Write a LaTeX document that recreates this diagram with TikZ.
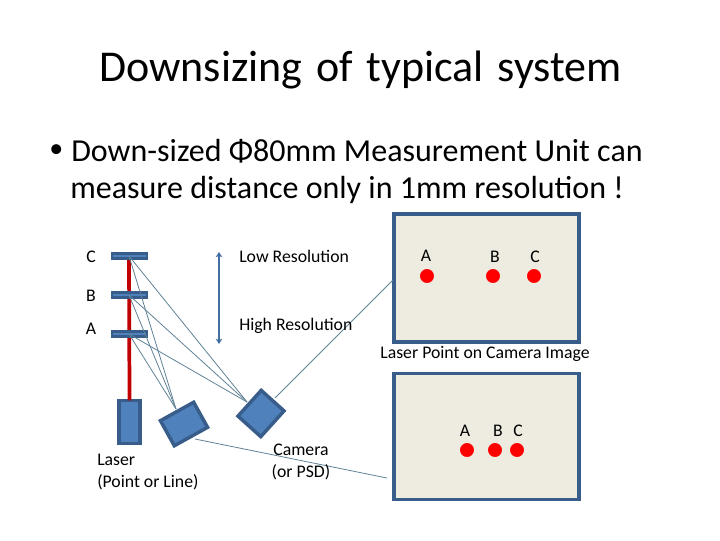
\documentclass[tikz,border=0pt]{standalone}
\usepackage{fontspec}
\setmainfont{Carlito}
\usetikzlibrary{arrows.meta}
\definecolor{fillblue}{HTML}{4F81BD}
\definecolor{edgeblue}{HTML}{385D8A}
\definecolor{linkblue}{HTML}{5F8296}
\definecolor{panelbg}{HTML}{EEECE1}
\definecolor{beamred}{HTML}{C00000}
\tikzset{
  px/.style={x=0.75pt,y=-0.75pt},
  part/.style={fill=fillblue,draw=edgeblue,line width=2.6pt,line join=miter,outer sep=0pt,inner sep=0pt},
  mirror/.style={fill=fillblue,draw=edgeblue,line width=1.8pt,outer sep=0pt,inner sep=0pt,minimum width=26.5pt,minimum height=3.6pt},
  panel/.style={fill=panelbg,draw=edgeblue,line width=2.4pt,outer sep=0pt,inner sep=0pt},
  link/.style={draw=linkblue,line width=0.6pt},
  spot/.style={circle,fill=red,draw=red,minimum size=10pt,inner sep=0pt,line width=0.4pt},
  lbl/.style={font=\fontsize{13.3pt}{16.5pt}\selectfont,text=black,inner sep=0pt,align=left},
  bigtxt/.style={font=\fontsize{24pt}{28pt}\selectfont,text=black,inner sep=0pt,anchor=west},
}
\begin{document}
\begin{tikzpicture}[px]
\useasboundingbox (0,0) rectangle (720,540);
\node[font=\fontsize{33pt}{38pt}\selectfont,inner sep=0pt] (title) at (360.5,70) {Downsizing\hspace{2.9pt} of\hspace{2.9pt} typical\hspace{2.9pt} system};
\node[bigtxt,font=\fontsize{21pt}{25pt}\selectfont] (bul) at (49,151) {•};
\node[bigtxt] (l1) at (71,151) {Down-sized Φ80mm Measurement Unit can};
\node[bigtxt] (l2) at (70,190) {measure distance only in 1mm resolution !};

% panels
\node[panel,minimum width=138.8pt,minimum height=96pt] (p1) at (486.5,278) {};
\node[panel,minimum width=138.8pt,minimum height=95pt] (p2) at (486.5,436.5) {};
\coordinate (p1in) at (393,280);
\coordinate (p2in) at (387,478);

% beam
\coordinate (mc) at (129,256);
\coordinate (mb) at (129,295);
\coordinate (ma) at (129,334);
\node[part,minimum width=15.5pt,minimum height=32.5pt] (laser) at (129.5,422) {};
\draw[beamred,line width=2.8pt] (mc) -- (laser.north);

% mirrors
\node[mirror] (mirC) at (129.5,256) {};
\node[mirror] (mirB) at (129.5,295) {};
\node[mirror] (mirA) at (129.5,334) {};

% lens and camera
\node[part,rotate=29,minimum width=28.5pt,minimum height=21.5pt] (lens) at (184,424) {};
\node[part,rotate=48,minimum width=26pt,minimum height=23pt] (cam) at (261,413.5) {};
\coordinate (lt) at (176,409);
\coordinate (ct) at (247,402);
\coordinate (co) at (275,398);
\coordinate (lo) at (195,439);
\foreach \m in {mc,mb,ma}{
  \draw[link] (\m) -- (lt);
  \draw[link] (\m) -- (ct);
}
\draw[link] (co) -- (p1in);
\draw[link] (lo) -- (p2in);

% double arrow
\coordinate (up) at (219,252);
\coordinate (dn) at (219,344);
\draw[draw=fillblue!85!black,line width=1.8pt,{Stealth[length=4pt,width=5pt]}-{Stealth[length=4pt,width=5pt]}] (up) -- (dn);

% left labels
\node[lbl] (tc) at (91,257) {C};
\node[lbl] (tb) at (91,296) {B};
\node[lbl] (ta) at (91,329) {A};
\node[lbl,anchor=west] (low) at (239,256) {Low Resolution};
\node[lbl,anchor=west] (high) at (239,326) {High Resolution};
\node[lbl,anchor=north west] (las) at (97,453.5) {Laser\\(Point or Line)};
\node[lbl,anchor=north,align=center] (camt) at (301,443.5) {Camera\\(or PSD)};
\node[lbl] (cap) at (485,354) {Laser Point on Camera Image};

% spots
\node[spot] (s1a) at (427,276) {};
\node[spot] (s1b) at (493,276) {};
\node[spot] (s1c) at (534,276) {};
\node[lbl] (t1a) at (426,256) {A};
\node[lbl] (t1b) at (495,257) {B};
\node[lbl] (t1c) at (535,257) {C};
\node[spot] (s2a) at (467,450) {};
\node[spot] (s2b) at (495,450) {};
\node[spot] (s2c) at (517,450) {};
\node[lbl] (t2a) at (465,431) {A};
\node[lbl] (t2b) at (498,431) {B};
\node[lbl] (t2c) at (518,431) {C};
\end{tikzpicture}
\end{document}
